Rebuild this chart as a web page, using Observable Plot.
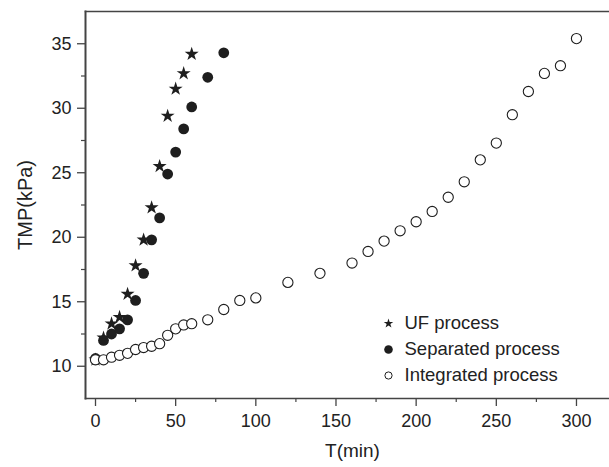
<!DOCTYPE html>
<html><head><meta charset="utf-8">
<script src="https://cdn.jsdelivr.net/npm/d3@7"></script>
<script src="https://cdn.jsdelivr.net/npm/@observablehq/plot@0.6"></script>
<style>
body{margin:0;background:#fff}
#chart svg{font-family: "Liberation Sans", Arial, sans-serif; background:#fff}
</style>
</head><body><div id="chart"></div>
<script>
const seriesNames = ["UF process", "Separated process", "Integrated process"];

const ufTime = [0, 5, 10, 15, 20, 25, 30, 35, 40, 45, 50, 55, 60];
const ufTMP  = [10.5, 12.2, 13.3, 13.8, 15.6, 17.8, 19.8, 22.3, 25.5, 29.4, 31.5, 32.7, 34.2];

const sepTime = [0, 5, 10, 15, 20, 25, 30, 35, 40, 45, 50, 55, 60, 70, 80];
const sepTMP  = [10.6, 12.0, 12.5, 12.9, 13.6, 15.1, 17.2, 19.8, 21.5, 24.9, 26.6, 28.4, 30.1, 32.4, 34.3];

const intTime = [0, 5, 10, 15, 20, 25, 30, 35, 40, 45, 50, 55, 60, 70, 80, 90, 100, 120, 140, 160, 170, 180, 190, 200, 210, 220, 230, 240, 250, 260, 270, 280, 290, 300];
const intTMP  = [10.5, 10.5, 10.7, 10.85, 11.0, 11.3, 11.45, 11.55, 11.75, 12.4, 12.9, 13.2, 13.3, 13.6, 14.4, 15.1, 15.3, 16.5, 17.2, 18.0, 18.9, 19.7, 20.5, 21.2, 22.0, 23.1, 24.3, 26.0, 27.3, 29.5, 31.3, 32.7, 33.3, 35.4];

const xMajorTicks = [0, 50, 100, 150, 200, 250, 300];
const xMinorTicks = [25, 75, 125, 175, 225, 275];
const yMajorTicks = [10, 15, 20, 25, 30, 35];
const yMinorTicks = [12.5, 17.5, 22.5, 27.5, 32.5];
const xTitle = "T(min)";
const yTitle = "TMP(kPa)";

const toRows = (xs, ys) => xs.map((x, i) => ({x, y: ys[i]}));
const uf = toRows(ufTime, ufTMP);
const sep = toRows(sepTime, sepTMP);
const integ = toRows(intTime, intTMP);

const ink = "#1e1e1e";
const axisColor = "#444";
const fontFamily = "'Liberation Sans', Arial, sans-serif";

const legendStyles = [
  {symbol: "star", r: 3.0, fill: ink, stroke: "none"},
  {symbol: "circle", r: 4.3, fill: ink, stroke: "none"},
  {symbol: "circle", r: 3.6, fill: "white", stroke: ink}
];
const legendMarks = seriesNames.flatMap((name, i) => [
  Plot.dot([name], {frameAnchor: "top-left", dx: 303, dy: 312 + i * 26, symbol: legendStyles[i].symbol, r: legendStyles[i].r, fill: legendStyles[i].fill, stroke: legendStyles[i].stroke, strokeWidth: 1}),
  Plot.text([name], {frameAnchor: "top-left", dx: 319, dy: 312 + i * 26, text: d => d, textAnchor: "start", lineAnchor: "middle", fontSize: 18.5, fill: "#222"})
]);

const chart = Plot.plot({
  width: 609,
  height: 467,
  marginLeft: 85,
  marginRight: 0,
  marginTop: 11,
  marginBottom: 69,
  style: {fontFamily},
  x: {domain: [-6.24, 320.6]},
  y: {domain: [7.5, 37.5]},
  marks: [
    Plot.frame({anchor: "left", stroke: axisColor, strokeWidth: 2}),
    Plot.frame({anchor: "bottom", stroke: axisColor, strokeWidth: 1.5}),
    Plot.frame({anchor: "top", stroke: axisColor, strokeWidth: 1.5}),
    Plot.axisX(xMajorTicks, {anchor: "bottom", tickSize: 8, tickPadding: 8, fontSize: 18, stroke: axisColor, strokeWidth: 1.3, label: null, fill: "#222"}),
    Plot.axisX(xMinorTicks, {anchor: "bottom", tickSize: 4, text: null, stroke: axisColor, strokeWidth: 1.2, label: null}),
    Plot.axisY(yMajorTicks, {anchor: "left", tickSize: 8, tickPadding: 6, fontSize: 18, stroke: axisColor, strokeWidth: 1.3, label: null, fill: "#222"}),
    Plot.axisY(yMinorTicks, {anchor: "left", tickSize: 4, text: null, stroke: axisColor, strokeWidth: 1.2, label: null}),
    Plot.text([xTitle], {frameAnchor: "bottom", textAnchor: "middle", dx: 5, dy: 58, text: d => d, fontSize: 19, fill: "#222"}),
    Plot.text([yTitle], {frameAnchor: "left", textAnchor: "middle", lineAnchor: "middle", dx: -60, rotate: -90, text: d => d, fontSize: 20, fill: "#222", style: {letterSpacing: "1.5px"}}),
    Plot.dot(uf, {x: "x", y: "y", symbol: "star", r: 4.4, fill: ink}),
    Plot.dot(sep, {x: "x", y: "y", r: 5.4, fill: ink}),
    Plot.dot(integ, {x: "x", y: "y", r: 5.1, fill: "white", stroke: ink, strokeWidth: 1.1}),
    ...legendMarks
  ]
});
document.getElementById("chart").append(chart);
</script>
</body></html>
